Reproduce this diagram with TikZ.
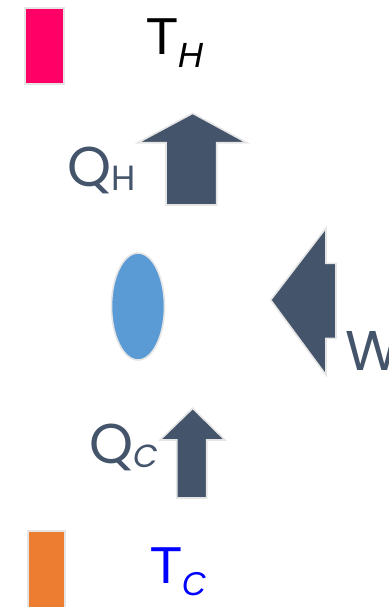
\documentclass[tikz,border=0pt]{standalone}
\usepackage{fontspec}
\usetikzlibrary{shapes.geometric}
\setmainfont{Liberation Sans}
\newfontfamily\labelfont{Poppins}
\definecolor{slate}{HTML}{44546A}
\definecolor{hotpink}{HTML}{FF0066}
\definecolor{warm}{HTML}{ED7D31}
\definecolor{cell}{HTML}{5B9BD5}
\begin{document}
\begin{tikzpicture}[x=1pt,y=-1pt,
  rim/.style={draw=black!10,line width=1.6pt,line join=miter},
  flow/.style={rim,fill=slate},
  temp/.style={anchor=base west,inner sep=0pt,font=\fontsize{52}{52}\selectfont},
  heat/.style={anchor=base west,inner sep=0pt,text=slate,font=\labelfont\fontsize{56}{56}\selectfont}]
\useasboundingbox (0,0) rectangle (388,607);

% reservoirs
\filldraw[rim,fill=hotpink] (25,8) rectangle (64,84);
\filldraw[rim,fill=warm] (28,531) rectangle (65,610);

% temperature labels
\node[temp] (th) at (146,55) {T\raisebox{-13pt}{\itshape\fontsize{35}{35}\selectfont H}};
\node[temp,text=blue] (tc) at (150,583) {T\raisebox{-12pt}{\itshape\fontsize{33}{33}\selectfont C}};

% engine
\node[rim,fill=cell,ellipse,minimum width=53pt,minimum height=107pt,inner sep=0pt] (eng) at (138,306.5) {};

% heat flow arrows
\filldraw[flow] (166,205) -- (166,142.7) -- (138,142.7) -- (192.7,113.3)
  -- (246.7,142.7) -- (216.7,142.7) -- (216.7,205) -- cycle;
\filldraw[flow] (176.7,498) -- (176.7,440) -- (160,440) -- (192.7,408.3)
  -- (225,440) -- (206.7,440) -- (206.7,498) -- cycle;

% work arrow
\filldraw[flow] (336,263.3) -- (326,263.3) -- (326,228) -- (270.7,300)
  -- (326,375) -- (326,338.3) -- (336,338.3) -- cycle;

% flow labels
\node[heat] (qh) at (67,186) {Q\raisebox{-4pt}{\fontsize{35}{35}\selectfont H}};
\node[heat] (qc) at (89,463) {Q\raisebox{-4pt}{\itshape\fontsize{32}{32}\selectfont C}};
\node[heat] (w) at (345,370) {W};
\end{tikzpicture}
\end{document}
